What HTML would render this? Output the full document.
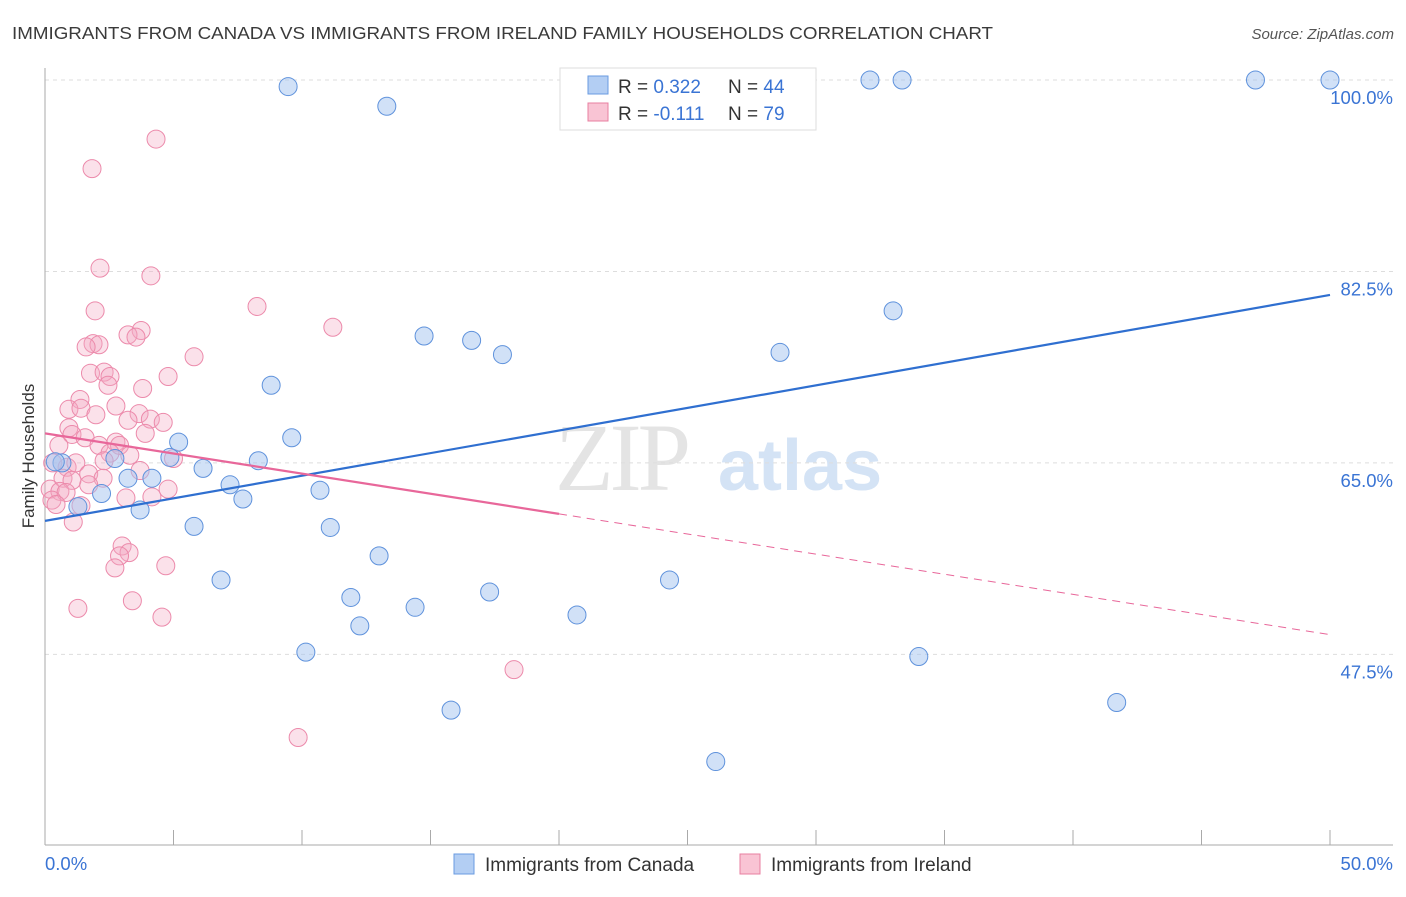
<!DOCTYPE html>
<html><head><meta charset="utf-8"><style>
body{margin:0;background:#fff;font-family:"Liberation Sans",sans-serif;}
</style></head><body>
<svg id="chart" width="1406" height="892" xmlns="http://www.w3.org/2000/svg" font-family="Liberation Sans, sans-serif">
<text x="12" y="39" font-size="17.5" fill="#3a3a3a" textLength="981" lengthAdjust="spacingAndGlyphs">IMMIGRANTS FROM CANADA VS IMMIGRANTS FROM IRELAND FAMILY HOUSEHOLDS CORRELATION CHART</text>
<text x="1394" y="39" font-size="15" fill="#555" font-style="italic" text-anchor="end">Source: ZipAtlas.com</text>
<g>
<text x="555" y="490" font-size="96" fill="#e4e4e4" font-family="Liberation Serif, serif" letter-spacing="-4">ZIP</text>
<text x="718" y="490" font-size="72" fill="#d4e3f5" font-weight="bold">atlas</text>
</g>
<g id="grid"></g>
<g id="axes"></g>
<g id="marks"></g>
<text transform="translate(34,456) rotate(-90)" font-size="17" fill="#333" text-anchor="middle">Family Households</text>
<g>
<rect x="560" y="68" width="256" height="62" fill="#fff" stroke="#ddd"/>
<rect x="588" y="76" width="20" height="18" fill="#b3cef3" stroke="#6a9be0"/>
<rect x="588" y="103" width="20" height="18" fill="#f9c4d4" stroke="#e87fa0"/>
<text x="618" y="93" font-size="19" fill="#333">R = <tspan fill="#3a74d4">0.322</tspan></text>
<text x="728" y="93" font-size="19" fill="#333">N = <tspan fill="#3a74d4">44</tspan></text>
<text x="618" y="120" font-size="19" fill="#333">R = <tspan fill="#3a74d4">-0.111</tspan></text>
<text x="728" y="120" font-size="19" fill="#333">N = <tspan fill="#3a74d4">79</tspan></text>
</g>
<g>
<rect x="454" y="854" width="20" height="20" fill="#b3cef3" stroke="#6a9be0"/>
<text x="485" y="871" font-size="19" fill="#333">Immigrants from Canada</text>
<rect x="740" y="854" width="20" height="20" fill="#f9c4d4" stroke="#e87fa0"/>
<text x="771" y="871" font-size="19" fill="#333">Immigrants from Ireland</text>
</g>
</svg>
<script>
const yTicks=[100,82.5,65,47.5];
const yTickLabels=["100.0%","82.5%","65.0%","47.5%"];
const xTicks=[0,5,10,15,20,25,30,35,40,45,50];
const canadaX=[9.46,13.3,32.1,33.35,47.1,50,33.0,14.75,16.6,17.8,28.6,8.8,9.6,5.2,2.72,4.86,8.3,6.15,0.66,3.23,4.16,7.2,10.7,2.2,7.7,3.7,1.28,5.8,11.1,13.0,6.85,24.3,11.9,17.3,14.4,20.7,12.25,10.15,34.0,15.8,41.7,26.1,0.4];
const canadaY=[99.4,97.6,100,100,100,100,78.9,76.6,76.2,74.9,75.1,72.1,67.3,66.9,65.4,65.5,65.2,64.5,65.0,63.6,63.6,63.0,62.5,62.2,61.7,60.7,61.0,59.2,59.1,56.5,54.3,54.3,52.7,53.2,51.8,51.1,50.1,47.7,47.3,42.4,43.1,37.7,65.1];
const irelandX=[4.32,1.83,2.14,4.12,8.25,1.95,11.2,3.74,3.23,3.54,1.87,2.1,1.6,5.8,1.77,2.3,2.53,4.79,2.45,3.8,1.36,0.93,1.4,2.76,1.98,3.66,3.23,4.1,4.6,0.93,1.05,1.56,3.9,2.1,2.76,2.9,0.54,2.53,3.3,2.3,5.0,0.3,0.86,1.2,3.7,1.7,2.26,0.7,1.05,1.7,4.79,0.2,0.58,0.82,3.15,4.16,0.27,0.43,1.4,1.1,3.0,3.27,2.9,2.72,4.7,3.4,1.28,4.55,18.25,9.85];
const irelandY=[94.6,91.9,82.8,82.1,79.3,78.9,77.4,77.1,76.7,76.5,75.9,75.8,75.6,74.7,73.2,73.3,72.9,72.9,72.1,71.8,70.8,69.9,70.0,70.2,69.4,69.5,68.9,69.0,68.7,68.2,67.6,67.3,67.7,66.6,66.9,66.6,66.6,65.9,65.7,65.2,65.4,65.0,64.6,65.0,64.3,64.0,63.6,63.6,63.4,63.0,62.6,62.6,62.4,62.3,61.8,61.9,61.6,61.2,61.1,59.6,57.4,56.8,56.5,55.4,55.6,52.4,51.7,50.9,46.1,39.9];
const canadaTrend=[59.7,80.35];
const irelandTrend=[67.7,49.3];
const irelandSolidEnd=20;
const X=v=>45+v/50*1285;
const Y=v=>80+(100-v)*10.94;
const NS="http://www.w3.org/2000/svg";
function mk(parent,tag,attrs){const e=document.createElementNS(NS,tag);for(const k in attrs)e.setAttribute(k,attrs[k]);document.getElementById(parent).appendChild(e);return e;}
yTicks.forEach((t,i)=>{
  const l=mk('grid','line',{x1:45,x2:1393,y1:Y(t),y2:Y(t),stroke:'#ddd','stroke-dasharray':'4,4'});
  
  
  const tx=mk('grid','text',{x:1393,y:Y(t)+24,'font-size':18.5,fill:'#3a74d4','text-anchor':'end'});
  tx.textContent=yTickLabels[i];
  
  
});
let a=mk('axes','line',{x1:45,x2:45,y1:68,y2:845,stroke:'#aaa'});


a=mk('axes','line',{x1:45,x2:1393,y1:845,y2:845,stroke:'#aaa'});


xTicks.forEach(t=>{
  const l=mk('axes','line',{x1:X(t),x2:X(t),y1:830,y2:845,stroke:'#aaa'});
  
  
});
let t0=mk('axes','text',{x:45,y:870,'font-size':18.5,fill:'#3a74d4'});t0.textContent=xTicks[0].toFixed(1)+'%';


let t1=mk('axes','text',{x:1393,y:870,'font-size':18.5,fill:'#3a74d4','text-anchor':'end'});t1.textContent=xTicks[xTicks.length-1].toFixed(1)+'%';


irelandX.forEach((x,i)=>{
  const c=mk('marks','circle',{cx:X(x),cy:Y(irelandY[i]),r:9,fill:'rgba(244,170,195,0.35)',stroke:'#ec8aab','stroke-width':1});
  
  
});
canadaX.forEach((x,i)=>{
  const c=mk('marks','circle',{cx:X(x),cy:Y(canadaY[i]),r:9,fill:'rgba(164,196,240,0.5)',stroke:'#5f92dc','stroke-width':1});
  
  
});
const irY=x=>irelandTrend[0]+(irelandTrend[1]-irelandTrend[0])*x/50;
let tl=mk('marks','line',{x1:X(0),y1:Y(canadaTrend[0]),x2:X(50),y2:Y(canadaTrend[1]),stroke:'#2f6fd0','stroke-width':2.2});


tl=mk('marks','line',{x1:X(0),y1:Y(irY(0)),x2:X(irelandSolidEnd),y2:Y(irY(irelandSolidEnd)),stroke:'#e8679a','stroke-width':2.2});


tl=mk('marks','line',{x1:X(irelandSolidEnd),y1:Y(irY(irelandSolidEnd)),x2:X(50),y2:Y(irY(50)),stroke:'#e8679a','stroke-width':1,'stroke-dasharray':'8,6'});


</script>
</body></html>
